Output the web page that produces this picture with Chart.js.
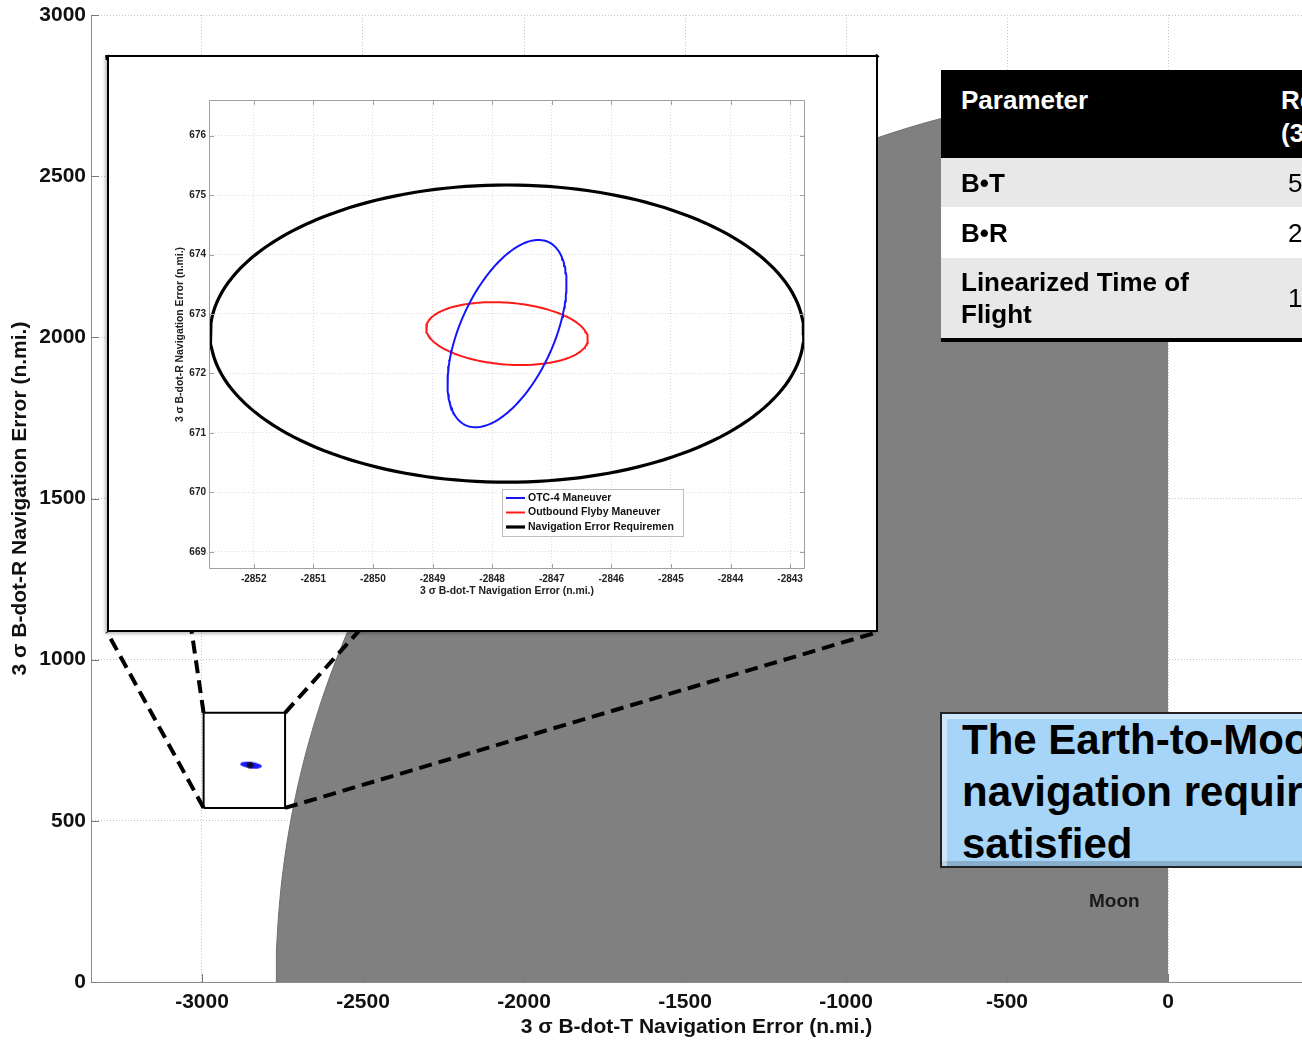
<!DOCTYPE html>
<html>
<head>
<meta charset="utf-8">
<script src="https://cdn.jsdelivr.net/npm/chart.js@4.4.1/dist/chart.umd.min.js"></script>
<style>
  body { margin:0; width:1302px; height:1041px; overflow:hidden; position:relative; background:#fff;
         font-family:'Liberation Sans', Arial, Helvetica, sans-serif; }
  #main { position:absolute; left:0; top:0; width:1302px; height:1041px; }
  #inset { position:absolute; left:107px; top:55px; width:771px; height:577px; border:2px solid #000;
           background:#fff; box-sizing:border-box; box-shadow:-2px 2px 3px rgba(0,0,0,0.25); }
  #insetWrap { position:relative; width:767px; height:573px; }
  #tbl { position:absolute; left:941px; top:70px; width:640px; table-layout:fixed; border-collapse:collapse;
         font-weight:bold; font-size:26px; border-bottom:4px solid #000; }
  #tbl td { padding:0 0 0 20px; white-space:nowrap; line-height:32px; overflow:hidden; }
  #tbl col.c1 { width:320px; }
  #tbl col.c2 { width:320px; }
  #tbl tr.hd td { background:#000; color:#fff; height:88px; vertical-align:top; padding-top:14px; box-sizing:border-box; line-height:33px; }
  #tbl tr.g td { background:#e8e8e8; }
  #tbl tr.w td { background:#fff; }
  #tbl .v { padding-left:27px; font-weight:normal; }
  #msg { position:absolute; left:940px; top:712px; width:560px; height:156px; box-sizing:border-box;
         background:#a6d5f8; border:2px solid #222; font-weight:bold; font-size:42px; line-height:52px;
         padding:0 0 0 20px; white-space:nowrap; color:#000;
         box-shadow: inset 5px 5px 0 rgba(255,255,255,0.45), inset -5px -5px 0 rgba(0,0,0,0.18); }
  #moon { position:absolute; left:1089px; top:890px; font-weight:bold; font-size:19px; color:#1a1a1a; }
</style>
</head>
<body>
<div id="main"><canvas id="mainChart"></canvas></div>
<div id="inset"><div id="insetWrap"><canvas id="insetChart"></canvas></div></div>
<table id="tbl">
  <colgroup><col class="c1"><col class="c2"></colgroup>
  <tr class="hd"><td>Parameter</td><td>Requirement<br>(3σ)</td></tr>
  <tr class="g" style="height:49px"><td>B•T</td><td class="v">5 n.mi.</td></tr>
  <tr class="w" style="height:51px"><td>B•R</td><td class="v">2 n.mi.</td></tr>
  <tr class="g" style="height:82px"><td>Linearized Time of<br>Flight</td><td class="v">1 sec</td></tr>
</table>
<div id="msg">The Earth-to-Moon<br>navigation requirements are<br>satisfied</div>
<div id="moon">Moon</div>
<script>
const fontFam = "'Liberation Sans', Arial, Helvetica, sans-serif";

// main plot axes
const xTicks = [-3000, -2500, -2000, -1500, -1000, -500, 0];
const yTicks = [0, 500, 1000, 1500, 2000, 2500, 3000];
// zoomed inset axes
const insetXTicks = [-2852, -2851, -2850, -2849, -2848, -2847, -2846, -2845, -2844, -2843];
const insetYTicks = [669, 670, 671, 672, 673, 674, 675, 676];

// 3 sigma error ellipses (B-dot-T centre, B-dot-R centre, semi axes in n.mi., tilt in deg)
const seriesNames = ['OTC-4 Maneuver', 'Outbound Flyby Maneuver', 'Navigation Error Requirement'];
const seriesColors = ['#1414ff', '#ff1a1a', '#000000'];
const ellipseCentreT = [-2847.75, -2847.75, -2847.75];
const ellipseCentreR = [672.67, 672.67, 672.67];
const ellipseSemiMajor = [1.69, 1.36, 4.98];
const ellipseSemiMinor = [0.79, 0.52, 2.5];
const ellipseTilt = [65.9, -4.5, 0];

const moonRadius = 2770;          // n.mi., centred on the B-plane origin
const zoomBoxT = [-2995, -2742];  // area shown in the inset
const zoomBoxR = [540, 835];
const insetBox = {left: 107, top: 55, right: 878, bottom: 632}; // page px of the inset frame

function ellipsePoints(i) {
  const pts = [];
  const th = ellipseTilt[i] * Math.PI / 180;
  for (let d = 0; d <= 360; d += 2) {
    const t = d * Math.PI / 180;
    const u = ellipseSemiMajor[i] * Math.cos(t), v = ellipseSemiMinor[i] * Math.sin(t);
    pts.push({x: ellipseCentreT[i] + u * Math.cos(th) - v * Math.sin(th),
              y: ellipseCentreR[i] + u * Math.sin(th) + v * Math.cos(th)});
  }
  return pts;
}

const moonPts = [];
for (let d = 180; d >= 90; d -= 1) {
  const t = d * Math.PI / 180;
  moonPts.push({x: moonRadius * Math.cos(t), y: moonRadius * Math.sin(t)});
}

// the ellipses are only a smudge at full scale, drawn as one marker
const smudge = document.createElement('canvas');
smudge.width = 24; smudge.height = 9;
(function() {
  const c = smudge.getContext('2d');
  c.fillStyle = '#1a1aff';
  c.beginPath(); c.ellipse(12, 4.5, 11, 3.2, 0.12, 0, Math.PI * 2); c.fill();
  c.fillStyle = '#0a0a3a';
  c.beginPath(); c.ellipse(11, 4.5, 3.5, 3.2, 0, 0, Math.PI * 2); c.fill();
})();

// MATLAB style ticks pointing inwards
const inwardTicks = {
  id: 'inwardTicks',
  afterDraw(chart, args, o) {
    const {ctx, chartArea: a, scales: {x, y}} = chart;
    ctx.save();
    ctx.strokeStyle = o.color; ctx.lineWidth = 1;
    ctx.beginPath();
    x.ticks.forEach(t => {
      const p = Math.round(x.getPixelForValue(t.value)) + 0.5;
      ctx.moveTo(p, a.bottom); ctx.lineTo(p, a.bottom - o.len);
      if (o.box) { ctx.moveTo(p, a.top); ctx.lineTo(p, a.top + o.len); }
    });
    y.ticks.forEach(t => {
      const p = Math.round(y.getPixelForValue(t.value)) + 0.5;
      ctx.moveTo(a.left, p); ctx.lineTo(a.left + o.len, p);
      if (o.box) { ctx.moveTo(a.right, p); ctx.lineTo(a.right - o.len, p); }
    });
    if (o.box) ctx.rect(a.left + 0.5, a.top + 0.5, a.width - 1, a.height - 1);
    ctx.stroke();
    ctx.restore();
  }
};

// dashed lines from the zoom box to the inset frame
const connectors = {
  id: 'connectors',
  afterDatasetsDraw(chart) {
    const {ctx, scales: {x, y}} = chart;
    const l = x.getPixelForValue(zoomBoxT[0]), r = x.getPixelForValue(zoomBoxT[1]);
    const b = y.getPixelForValue(zoomBoxR[0]), t = y.getPixelForValue(zoomBoxR[1]);
    const pairs = [[l, t, insetBox.left, insetBox.top], [r, t, insetBox.right, insetBox.top],
                   [l, b, insetBox.left, insetBox.bottom], [r, b, insetBox.right, insetBox.bottom]];
    ctx.save();
    ctx.strokeStyle = '#000'; ctx.lineWidth = 4; ctx.setLineDash([13, 7]);
    pairs.forEach(p => { ctx.beginPath(); ctx.moveTo(p[0], p[1]); ctx.lineTo(p[2], p[3]); ctx.stroke(); });
    ctx.restore();
  }
};

const insetLegend = {
  id: 'insetLegend',
  afterDraw(chart, args, o) {
    const ctx = chart.ctx;
    ctx.save();
    ctx.fillStyle = '#fff'; ctx.fillRect(o.x, o.y, o.w, o.h);
    ctx.strokeStyle = '#bdbdbd'; ctx.lineWidth = 1; ctx.strokeRect(o.x + 0.5, o.y + 0.5, o.w, o.h);
    ctx.beginPath(); ctx.rect(o.x, o.y, o.w - 9, o.h); ctx.clip();
    ctx.font = 'bold 10.5px ' + fontFam; ctx.textBaseline = 'middle';
    chart.data.datasets.forEach((ds, i) => {
      const yy = o.y + 9 + i * 14.5;
      ctx.strokeStyle = ds.borderColor; ctx.lineWidth = ds.borderWidth;
      ctx.beginPath(); ctx.moveTo(o.x + 4, yy); ctx.lineTo(o.x + 23, yy); ctx.stroke();
      ctx.fillStyle = '#111'; ctx.fillText(ds.label, o.x + 26, yy);
    });
    ctx.restore();
  }
};

const mainFont = {family: fontFam, size: 21, weight: 'bold'};
const mainTitleFont = {family: fontFam, size: 21, weight: 'bold'};

new Chart(document.getElementById('mainChart'), {
  type: 'line',
  data: {
    datasets: [
      {data: [{x: zoomBoxT[0], y: zoomBoxR[0]}, {x: zoomBoxT[1], y: zoomBoxR[0]}, {x: zoomBoxT[1], y: zoomBoxR[1]},
              {x: zoomBoxT[0], y: zoomBoxR[1]}, {x: zoomBoxT[0], y: zoomBoxR[0]}],
       borderColor: '#000', borderWidth: 2, pointRadius: 0, fill: false},
      {data: [{x: ellipseCentreT[0], y: ellipseCentreR[0]}], showLine: false, pointStyle: smudge, pointRadius: 6,
       borderWidth: 0, fill: false},
      {data: moonPts, borderColor: '#6e6e6e', borderWidth: 1, backgroundColor: '#808080', pointRadius: 0, fill: 'origin'}
    ]
  },
  options: {
    responsive: true, maintainAspectRatio: false, animation: false, events: [],
    layout: {autoPadding: false, padding: {top: 15, right: 0, left: 0, bottom: 0}},
    plugins: {legend: {display: false}, tooltip: {enabled: false},
              inwardTicks: {color: '#7a7a7a', len: 8, box: false}},
    scales: {
      x: {
        type: 'linear', min: -3344.7, max: 416.1,
        afterBuildTicks: s => { s.ticks = xTicks.map(v => ({value: v})); },
        afterFit: s => { s.height = 59; s.paddingLeft = 0; s.paddingRight = 0; },
        ticks: {callback: v => String(v), font: mainFont, color: '#111', padding: 8, maxRotation: 0},
        grid: {color: '#c4c4c4', drawTicks: false},
        border: {color: '#8c8c8c', width: 1, dash: [1, 2]},
        title: {display: true, text: '3 σ B-dot-T Navigation Error (n.mi.)', font: mainTitleFont, color: '#111',
                padding: {top: 0, bottom: 1}}
      },
      y: {
        type: 'linear', min: 0, max: 3000,
        afterBuildTicks: s => { s.ticks = yTicks.map(v => ({value: v})); },
        afterFit: s => { s.width = 91; s.paddingTop = 0; s.paddingBottom = 0; },
        ticks: {callback: v => String(v), font: mainFont, color: '#111', padding: 5},
        grid: {color: '#c4c4c4', drawTicks: false},
        border: {color: '#8c8c8c', width: 1, dash: [1, 2]},
        title: {display: true, text: '3 σ B-dot-R Navigation Error (n.mi.)', font: mainTitleFont, color: '#111',
                padding: {top: 8, bottom: 0}}
      }
    }
  },
  plugins: [connectors, inwardTicks]
});

const insetTickFont = {family: fontFam, size: 10, weight: 'bold'};
const insetTitleFont = {family: fontFam, size: 10.4, weight: 'bold'};

new Chart(document.getElementById('insetChart'), {
  type: 'line',
  data: {
    datasets: seriesNames.map((name, i) => ({
      label: name, data: ellipsePoints(i), borderColor: seriesColors[i],
      borderWidth: i === 2 ? 3.2 : 2, pointRadius: 0, fill: false
    }))
  },
  options: {
    responsive: true, maintainAspectRatio: false, animation: false, events: [],
    layout: {autoPadding: false, padding: {top: 43, right: 71, left: 0, bottom: 0}},
    plugins: {legend: {display: false}, tooltip: {enabled: false},
              inwardTicks: {color: '#a0a0a0', len: 5, box: true},
              insetLegend: {x: 393, y: 432, w: 181, h: 47}},
    scales: {
      x: {
        type: 'linear', min: -2852.75, max: -2842.75,
        afterBuildTicks: s => { s.ticks = insetXTicks.map(v => ({value: v})); },
        afterFit: s => { s.height = 61; s.paddingLeft = 0; s.paddingRight = 0; },
        ticks: {callback: v => String(v), font: insetTickFont, color: '#222', padding: 4, maxRotation: 0},
        grid: {color: '#dcdcdc', drawTicks: false},
        border: {display: false, dash: [1, 2]},
        title: {display: true, text: '3 σ B-dot-T Navigation Error (n.mi.)', font: insetTitleFont, color: '#222',
                padding: {top: 0, bottom: 33}}
      },
      y: {
        type: 'linear', min: 668.71, max: 676.6,
        afterBuildTicks: s => { s.ticks = insetYTicks.map(v => ({value: v})); },
        afterFit: s => { s.width = 100; s.paddingTop = 0; s.paddingBottom = 0; },
        ticks: {callback: v => String(v), font: insetTickFont, color: '#222', padding: 3},
        grid: {color: '#dcdcdc', drawTicks: false},
        border: {display: false, dash: [1, 2]},
        title: {display: true, text: '3 σ B-dot-R Navigation Error (n.mi.)', font: insetTitleFont, color: '#222',
                padding: {top: 65, bottom: 0}}
      }
    }
  },
  plugins: [inwardTicks, insetLegend]
});
</script>
</body>
</html>
